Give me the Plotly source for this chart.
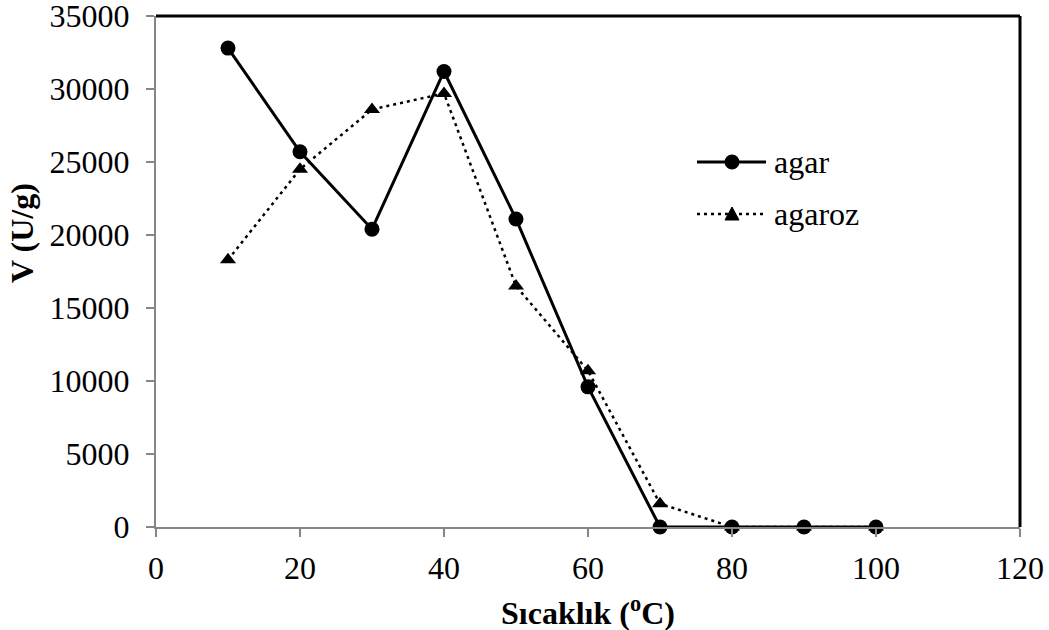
import plotly.graph_objects as go

# Temperature (°C) and activity values (U/g)
temperature = [10, 20, 30, 40, 50, 60, 70, 80, 90, 100]
agar = [32800, 25700, 20400, 31200, 21100, 9600, 0, 0, 0, 0]
agaroz = [18300, 24500, 28600, 29700, 16500, 10700, 1600, 0, 0, 0]

x_ticks = [0, 20, 40, 60, 80, 100, 120]
y_ticks = [0, 5000, 10000, 15000, 20000, 25000, 30000, 35000]

W, H = 1049, 630
ML, MR, MT, MB = 156, 29, 16, 103
PW, PH = W - ML - MR, H - MT - MB
FONT = "Liberation Serif"
AXIS_GREY = "#868686"


def px(x):
    return (x - ML) / PW


def py(y):
    return (H - MB - y) / PH


fig = go.Figure()
fig.add_trace(go.Scatter(
    x=temperature, y=agar, name="agar", mode="lines+markers",
    line=dict(color="black", width=3),
    marker=dict(symbol="circle", size=15, color="black"),
    cliponaxis=False, showlegend=False,
))
fig.add_trace(go.Scatter(
    x=temperature, y=agaroz, name="agaroz", mode="lines+markers",
    line=dict(color="black", width=2.5, dash="3px,4px"),
    marker=dict(symbol="triangle-up", size=14, color="black"),
    cliponaxis=False, showlegend=False,
))

shapes = [
    # top and right edges of the plot frame
    dict(type="line", xref="paper", yref="paper", x0=0, x1=1, y0=1, y1=1,
         line=dict(color="black", width=3)),
    dict(type="line", xref="paper", yref="paper", x0=1, x1=1, y0=0, y1=1,
         line=dict(color="black", width=3)),
    # legend samples
    dict(type="line", xref="paper", yref="paper", x0=px(697), x1=px(766),
         y0=py(162), y1=py(162), line=dict(color="black", width=3)),
    dict(type="circle", xref="paper", yref="paper",
         x0=px(732 - 7.5), x1=px(732 + 7.5), y0=py(162 + 7.5), y1=py(162 - 7.5),
         fillcolor="black", line=dict(color="black", width=0)),
    dict(type="line", xref="paper", yref="paper", x0=px(697), x1=px(766),
         y0=py(214), y1=py(214), line=dict(color="black", width=2.5, dash="3px,4px")),
    dict(type="path", xref="paper", yref="paper",
         path=f"M{px(725)},{py(220)} L{px(739)},{py(220)} L{px(732)},{py(207)} Z",
         fillcolor="black", line=dict(color="black", width=1)),
]

annotations = [
    dict(text="agar", xref="paper", yref="paper", x=px(772), y=py(162),
         xanchor="left", yanchor="middle", showarrow=False,
         font=dict(family=FONT, size=32, color="black")),
    dict(text="agaroz", xref="paper", yref="paper", x=px(772), y=py(214),
         xanchor="left", yanchor="middle", showarrow=False,
         font=dict(family=FONT, size=32, color="black")),
    dict(text="<b>Sıcaklık (<sup>o</sup>C)</b>", xref="paper", yref="paper",
         x=0.5, y=py(611), xanchor="center", yanchor="middle", showarrow=False,
         font=dict(family=FONT, size=32, color="black")),
    dict(text="<b>V (U/g)</b>", xref="paper", yref="paper", textangle=-90,
         x=px(22), y=py(233), xanchor="center", yanchor="middle", showarrow=False,
         font=dict(family=FONT, size=32, color="black")),
]

fig.update_layout(
    width=W, height=H,
    margin=dict(l=ML, r=MR, t=MT, b=MB, pad=0, autoexpand=False),
    paper_bgcolor="white", plot_bgcolor="white",
    font=dict(family=FONT, size=32, color="black"),
    shapes=shapes, annotations=annotations,
    showlegend=False,
)
fig.update_xaxes(
    range=[0, 120], tickmode="array", tickvals=x_ticks,
    ticks="outside", ticklen=8, tickwidth=2, tickcolor=AXIS_GREY,
    showline=True, linecolor=AXIS_GREY, linewidth=2,
    showgrid=False, zeroline=False, ticklabelstandoff=4,
    ticklabeloverflow="allow", automargin=False,
    tickfont=dict(family=FONT, size=32, color="black"),
)
fig.update_yaxes(
    range=[0, 35000], tickmode="array", tickvals=y_ticks,
    ticktext=[str(v) for v in y_ticks],
    ticks="outside", ticklen=8, tickwidth=2, tickcolor=AXIS_GREY,
    showline=True, linecolor=AXIS_GREY, linewidth=2,
    showgrid=False, zeroline=False, ticklabelstandoff=10,
    ticklabeloverflow="allow", automargin=False,
    tickfont=dict(family=FONT, size=32, color="black"),
)

fig.write_html("out.html")
